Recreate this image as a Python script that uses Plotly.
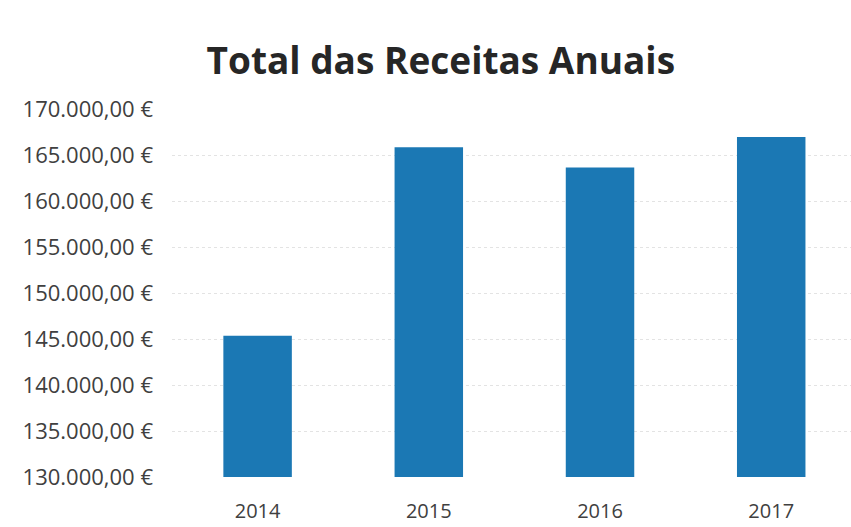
import plotly.graph_objects as go

years = ["2014", "2015", "2016", "2017"]
receitas = [145350, 165850, 163650, 166950]
tick_values = [130000, 135000, 140000, 145000, 150000, 155000, 160000, 165000, 170000]
tick_labels = ["130.000,00 €", "135.000,00 €", "140.000,00 €", "145.000,00 €",
               "150.000,00 €", "155.000,00 €", "160.000,00 €", "165.000,00 €",
               "170.000,00 €"]

fig = go.Figure(go.Bar(x=years, y=receitas, marker=dict(color="#1B78B4", line=dict(width=0))))

fig.update_layout(
    width=851, height=527,
    margin=dict(l=172, r=0, t=109, b=50),
    paper_bgcolor="white", plot_bgcolor="white",
    bargap=0.6,
    showlegend=False,
    font=dict(family="'Open Sans', Lato, sans-serif", color="#404040"),
    title=dict(text="<b>Total das Receitas Anuais</b>", x=0.518, xanchor="center",
               y=0.885, yanchor="middle",
               font=dict(size=37, color="#262626", family="'Open Sans', Lato, sans-serif")),
)
fig.update_xaxes(type="category", range=[-0.5, 3.466], showgrid=False, showline=False,
                 ticks="", tickfont=dict(size=20, color="#404040"), ticklabelstandoff=20,
                 automargin=False)
fig.update_yaxes(range=[130000, 170000], tickvals=tick_values, ticktext=tick_labels,
                 showgrid=True, gridcolor="#E3E3E3", gridwidth=1, griddash="dot",
                 zeroline=False, showline=False, ticks="", automargin=False,
                 tickfont=dict(size=22, color="#404040"), ticklabelstandoff=18)

fig.write_html("out.html")
